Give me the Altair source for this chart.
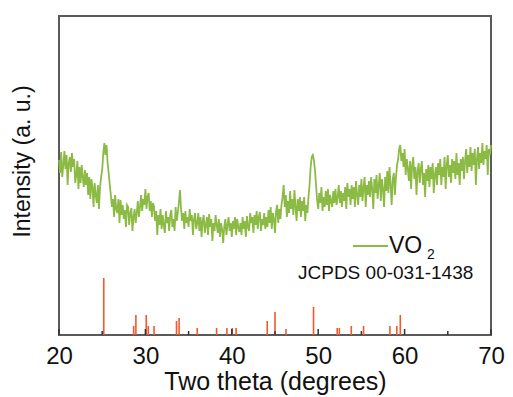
import altair as alt
import pandas as pd

# ---- XRD pattern of VO2: one row per degree, 0.125 deg steps ----
intensity = [
    175, 162, 183, 158, 170, 184, 166, 180,   # 20
    150, 172, 178, 163, 182, 168, 176, 152,   # 21
    160, 174, 146, 168, 152, 170, 158, 148,   # 22
    165, 150, 162, 140, 158, 136, 156, 148,   # 23
    128, 152, 140, 132, 150, 126, 148, 158,   # 24
    165, 182, 192, 180, 190, 172, 162, 150,   # 25
    140, 128, 136, 118, 140, 126, 122, 136,   # 26
    112, 135, 120, 130, 116, 125, 108, 130,   # 27
    128, 110, 122, 127, 104, 118, 126, 112,   # 28
    122, 134, 118, 128, 140, 124, 136, 130,   # 29
    146, 126, 138, 142, 124, 134, 118, 132,   # 30
    128, 114, 124, 100, 120, 110, 126, 106,   # 31
    120, 110, 102, 124, 112, 118, 104, 120,   # 32
    125, 108, 116, 104, 128, 114, 122, 132,   # 33
    145, 126, 114, 122, 106, 124, 112, 118,   # 34
    108, 126, 114, 120, 100, 116, 122, 106,   # 35
    112, 122, 104, 118, 98, 114, 120, 102,    # 36
    110, 118, 100, 121, 108, 116, 94, 112,    # 37
    104, 120, 110, 102, 116, 98, 112, 106,    # 38
    92, 108, 116, 100, 110, 118, 104, 112,    # 39
    98, 114, 106, 118, 100, 116, 108, 103,    # 40
    112, 100, 118, 106, 114, 98, 119, 108,    # 41
    104, 122, 112, 118, 102, 120, 110, 124,   # 42
    106, 118, 123, 104, 116, 110, 122, 106,   # 43
    118, 108, 125, 112, 128, 106, 122, 116,   # 44
    102, 124, 130, 112, 126, 116, 130, 138,   # 45
    150, 128, 140, 118, 134, 122, 144, 126,   # 46
    136, 120, 145, 128, 114, 136, 124, 138,   # 47
    118, 134, 124, 138, 114, 130, 122, 138,   # 48
    150, 168, 178, 180, 175, 165, 150, 135,   # 49
    126, 142, 132, 148, 124, 138, 128, 144,   # 50
    130, 146, 124, 140, 134, 128, 144, 132,   # 51
    146, 130, 138, 150, 132, 144, 128, 142,   # 52
    134, 148, 126, 152, 138, 146, 130, 150,   # 53
    136, 148, 128, 154, 140, 130, 150, 138,   # 54
    156, 134, 148, 158, 128, 150, 140, 154,   # 55
    138, 158, 146, 126, 156, 142, 160, 136,   # 56
    150, 162, 134, 156, 146, 128, 158, 144,   # 57
    164, 142, 168, 150, 130, 156, 162, 140,   # 58
    158, 170, 176, 186, 190, 174, 182, 168,   # 59
    186, 160, 176, 166, 154, 174, 146, 170,   # 60
    178, 156, 168, 140, 164, 172, 152, 166,   # 61
    174, 150, 162, 138, 166, 154, 170, 148,   # 62
    168, 156, 172, 142, 160, 168, 150, 172,   # 63
    160, 176, 150, 168, 158, 178, 146, 170,   # 64
    180, 158, 170, 152, 176, 162, 174, 156,   # 65
    182, 160, 172, 150, 176, 164, 178, 156,   # 66
    174, 186, 162, 180, 168, 188, 164, 182,   # 67
    170, 186, 150, 176, 188, 166, 182, 172,   # 68
    192, 170, 184, 176, 190, 160, 186, 180,   # 69
    190,                                      # 70
]
theta = [20 + 0.125 * i for i in range(len(intensity))]

# ---- JCPDS 00-031-1438 reference lines ----
ref_pos = [25.18, 28.64, 28.90, 30.10, 30.33, 31.00, 33.60, 33.90, 36.00,
           38.24, 39.43, 40.05, 40.50, 44.10, 45.00, 46.27, 49.46, 52.20,
           52.45, 53.83, 55.25, 58.30, 59.10, 59.50]
ref_int = [57, 9, 20, 20, 9, 9, 14, 17, 7, 7, 7, 7, 7, 14, 23, 6, 28, 7,
           7, 9, 9, 9, 9, 20]

# ---- inward axis ticks ----
tick_pos = [20, 25, 30, 35, 40, 45, 50, 55, 60, 65, 70]
tick_len = [6, 4, 6, 4, 6, 4, 6, 4, 6, 4, 6]

GREEN = "#8cbb45"
ORANGE = "#f1592a"
FONT = "Liberation Sans"

W, H = 432, 319
xs = alt.Scale(domain=[20, 70], nice=False, zero=False)
ys = alt.Scale(domain=[0, 319], nice=False, zero=False)

curve_df = pd.DataFrame({"theta": theta, "intensity": intensity})
ref_df = pd.DataFrame({"pos": ref_pos, "h": ref_int, "base": [0] * len(ref_pos)})
tick_df = pd.DataFrame({"pos": tick_pos, "len": tick_len, "base": [0] * len(tick_pos)})

xaxis = alt.Axis(values=[20, 30, 40, 50, 60, 70], grid=False, ticks=False,
                 domain=False, labelFontSize=24, labelFont=FONT, labelColor="#111",
                 labelPadding=9, labelFlush=False,
                 title="Two theta (degrees)", titleFontSize=25,
                 titleFont=FONT, titleFontWeight="normal", titleColor="#111",
                 titlePadding=1)
yaxis = alt.Axis(labels=False, ticks=False, domain=False, grid=False,
                 title="Intensity (a. u.)", titleFontSize=23, titleFont=FONT,
                 titleFontWeight="normal", titleColor="#111", titleY=145,
                 titleX=-25)

curve = alt.Chart(curve_df).mark_line(color=GREEN, strokeWidth=1.8).encode(
    x=alt.X("theta:Q", scale=xs, axis=xaxis),
    y=alt.Y("intensity:Q", scale=ys, axis=yaxis),
)

sticks = alt.Chart(ref_df).mark_rule(color=ORANGE, strokeWidth=1.6).encode(
    x=alt.X("pos:Q", scale=xs),
    y=alt.Y("base:Q", scale=ys),
    y2="h:Q",
)

ticks = alt.Chart(tick_df).mark_rule(color="#333", strokeWidth=1.5).encode(
    x=alt.X("pos:Q", scale=xs),
    y=alt.Y("base:Q", scale=ys),
    y2="len:Q",
)

leg_line = alt.Chart(pd.DataFrame({"k": ["VO2"]})).mark_rule(
    color=GREEN, strokeWidth=2
).encode(x=alt.value(294), x2=alt.value(329), y=alt.value(230))

leg_vo = alt.Chart(pd.DataFrame({"t": ["VO"]})).mark_text(
    font=FONT, fontSize=23, align="left", baseline="alphabetic", color="#111"
).encode(text="t:N", x=alt.value(330), y=alt.value(237))

leg_sub = alt.Chart(pd.DataFrame({"t": ["2"]})).mark_text(
    font=FONT, fontSize=14, align="left", baseline="alphabetic", color="#111"
).encode(text="t:N", x=alt.value(368), y=alt.value(243))

leg_ref = alt.Chart(pd.DataFrame({"t": ["JCPDS 00-031-1438"]})).mark_text(
    font=FONT, fontSize=19, align="left", baseline="alphabetic", color="#111"
).encode(text="t:N", x=alt.value(239), y=alt.value(263))

chart = alt.layer(curve, sticks, ticks, leg_line, leg_vo, leg_sub, leg_ref).properties(
    width=W, height=H,
    autosize=alt.AutoSizeParams(type="none"),
    padding={"left": 51, "top": 8, "right": 14, "bottom": 62},
).configure_view(stroke="#5a5a5a", strokeWidth=2)

chart.save("out.html", embed_options={"renderer": "svg", "actions": False})
